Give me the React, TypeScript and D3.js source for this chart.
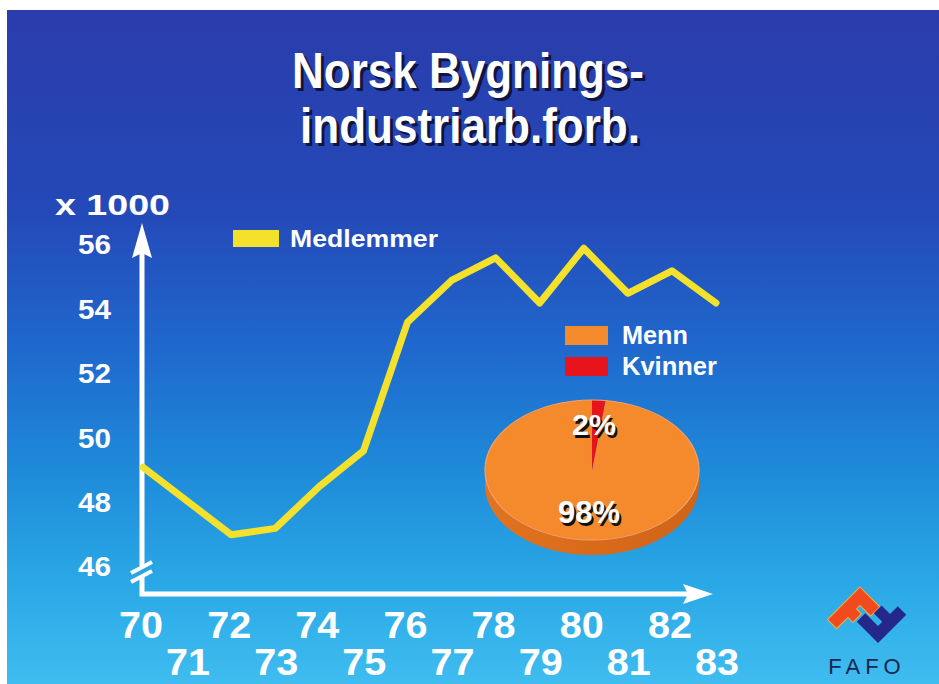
import React from 'react';
import * as d3 from 'd3';

const years = [70, 71, 72, 73, 74, 75, 76, 77, 78, 79, 80, 81, 82, 83];
const members = [49.1, 48.05, 47.0, 47.2, 48.5, 49.6, 53.6, 54.9, 55.6, 54.2, 55.9, 54.5, 55.2, 54.2];
const yTicks = [46, 48, 50, 52, 54, 56];
const xTicksTop = [70, 72, 74, 76, 78, 80, 82];
const xTicksBottom = [71, 73, 75, 77, 79, 81, 83];
const titleLines = ['Norsk Bygnings-', 'industriarb.forb.'];
const lineLegend = 'Medlemmer';
const unitLabel = 'x 1000';
const pieLabels = ['Menn', 'Kvinner'];
const pieValues = [98, 2];
const pieColors = ['#f48a2c', '#e8141c'];
const logoText = 'FAFO';

const FONT = '"Liberation Sans", Arial, Helvetica, sans-serif';

export default function App() {
  const W = 939, H = 684;
  const x = d3.scaleLinear().domain([70, 83]).range([143, 716]);
  const y = d3.scaleLinear().domain([46, 56]).range([567, 245]);
  const line = d3.line<number>().x((_, i) => x(years[i])).y(d => y(d)).curve(d3.curveLinear);

  const cx = 592, cy = 470, rx = 107, ry = 70, depth = 15;
  const pie = d3.pie<number>().sort(null).startAngle(2 * Math.PI * 0.02).endAngle(2 * Math.PI * 1.02);
  const arcs = pie(pieValues);
  const arc = d3.arc<d3.PieArcDatum<number>>().innerRadius(0).outerRadius(rx);
  const sidePath = `M${cx - rx},${cy} A${rx},${ry} 0 0 0 ${cx + rx},${cy} L${cx + rx},${cy + depth} A${rx},${ry} 0 0 1 ${cx - rx},${cy + depth} Z`;

  const axisX = 142, axisY = 594;
  const shadowText = (key: string, tx: number, ty: number, txt: string, size: number, anchor: string, len?: number, dx = 3, dy = 3, shadow = '#0d1540') => (
    <g key={key}>
      <text x={tx + dx} y={ty + dy} fontSize={size} fontWeight="bold" fontFamily={FONT} fill={shadow} textAnchor={anchor}
        {...(len ? { textLength: len, lengthAdjust: 'spacingAndGlyphs' } : {})}>{txt}</text>
      <text x={tx} y={ty} fontSize={size} fontWeight="bold" fontFamily={FONT} fill="#ffffff" textAnchor={anchor}
        {...(len ? { textLength: len, lengthAdjust: 'spacingAndGlyphs' } : {})}>{txt}</text>
    </g>
  );

  return (
    <svg width={W} height={H} style={{ position: 'absolute', left: 0, top: 0, display: 'block' }}>
      <defs>
        <linearGradient id="bg" x1="0" y1="0" x2="0" y2="1">
          <stop offset="0" stopColor="#2b3cab" />
          <stop offset="0.3" stopColor="#2449b8" />
          <stop offset="0.5" stopColor="#1f68cd" />
          <stop offset="0.68" stopColor="#1e8ad9" />
          <stop offset="0.85" stopColor="#2aa8e6" />
          <stop offset="1" stopColor="#3fbdf0" />
        </linearGradient>
        <linearGradient id="side" x1="0" y1="0" x2="1" y2="0">
          <stop offset="0" stopColor="#e0741f" />
          <stop offset="0.5" stopColor="#d96a1a" />
          <stop offset="1" stopColor="#cf6418" />
        </linearGradient>
      </defs>
      <rect x={0} y={0} width={W} height={H} fill="#ffffff" />
      <rect x={7} y={10} width={W - 7} height={H - 10} fill="url(#bg)" />

      {/* Title */}
      {shadowText('t1', 468, 88, titleLines[0], 50, 'middle', 352, 3, 3)}
      {shadowText('t2', 470, 143, titleLines[1], 50, 'middle', 340, 3, 3)}

      {/* unit label */}
      <text x={55} y={215} fontSize={30} fontWeight="bold" fontFamily={FONT} fill="#fff" textLength={115} lengthAdjust="spacingAndGlyphs">{unitLabel}</text>

      {/* y tick labels */}
      {yTicks.map(t => (
        <text key={t} x={111} y={y(t)} dy="0.35em" fontSize={27} fontWeight="bold" fontFamily={FONT} fill="#fff" textAnchor="end" textLength={33} lengthAdjust="spacingAndGlyphs">{t}</text>
      ))}

      {/* axes */}
      <g stroke="#ffffff" strokeWidth={5} fill="none" strokeLinecap="butt">
        <line x1={axisX} y1={250} x2={axisX} y2={566} />
        <path d={`M${axisX},577 L${axisX},${axisY} L690,${axisY}`} strokeLinejoin="miter" />
        <line x1={131} y1={573} x2={152} y2={562} strokeWidth={4} />
        <line x1={131} y1={582} x2={152} y2={571} strokeWidth={4} />
      </g>
      <path d={`M${axisX},223 L${axisX + 10},258 L${axisX},253 L${axisX - 10},258 Z`} fill="#fff" />
      <path d={`M713,${axisY} L683,${axisY + 10} L688,${axisY} L683,${axisY - 10} Z`} fill="#fff" />

      {/* x tick labels */}
      {xTicksTop.map(t => (
        <text key={t} x={x(t) - 2} y={638} fontSize={37} fontWeight="bold" fontFamily={FONT} fill="#fff" textAnchor="middle" textLength={44} lengthAdjust="spacingAndGlyphs">{t}</text>
      ))}
      {xTicksBottom.map(t => (
        <text key={t} x={x(t) + 1} y={675} fontSize={37} fontWeight="bold" fontFamily={FONT} fill="#fff" textAnchor="middle" textLength={44} lengthAdjust="spacingAndGlyphs">{t}</text>
      ))}

      {/* members line */}
      <path d={line(members) || ''} fill="none" stroke="#f3e12c" strokeWidth={7} strokeLinejoin="round" strokeLinecap="round" />

      {/* line legend */}
      <rect x={233} y={230} width={46} height={17} fill="#f3e12c" />
      <text x={290} y={247} fontSize={24} fontWeight="bold" fontFamily={FONT} fill="#fff" textLength={148} lengthAdjust="spacingAndGlyphs">{lineLegend}</text>

      {/* pie legend */}
      {pieLabels.map((l, i) => (
        <g key={l}>
          <rect x={565} y={326 + i * 31} width={43} height={19} fill={pieColors[i]} />
          <text x={622} y={344 + i * 31} fontSize={25} fontWeight="bold" fontFamily={FONT} fill="#fff" textLength={i === 0 ? 66 : 95} lengthAdjust="spacingAndGlyphs">{l}</text>
        </g>
      ))}

      {/* pie */}
      <path d={sidePath} fill="url(#side)" />
      <g transform={`translate(${cx},${cy}) scale(1,${ry / rx})`}>
        {arcs.map((a, i) => (
          <path key={i} d={arc(a) || ''} fill={pieColors[i]} />
        ))}
        <ellipse cx={0} cy={0} rx={rx} ry={rx} fill="none" stroke="#f6a06a" strokeWidth={1.2} />
      </g>
      {shadowText('p2', 594, 435, `${pieValues[1]}%`, 29, 'middle', 44, 2, 3, '#111')}
      {shadowText('p98', 589, 523, `${pieValues[0]}%`, 31, 'middle', 62, 2, 3, '#111')}

      {/* FAFO logo */}
      <g transform="translate(860,587) rotate(45)">
        <path d="M0,0 L28,0 L28,13 L13,13 L13,18 L20,18 L20,30 L13,30 L13,46 L0,46 Z" fill="#f04a1e" stroke="#f7b03a" strokeWidth={1} />
      </g>
      <g transform="translate(878,643) rotate(-45)">
        <path d="M0,0 L0,-30 L12,-30 L12,-12 L18,-12 L18,-24 L29,-24 L29,-12 L40,-12 L40,0 Z" fill="#23288a" />
      </g>
      <text x={867} y={674} fontSize={22} fontFamily={FONT} fill="#1a2650" textAnchor="middle" letterSpacing={5}>{logoText}</text>
    </svg>
  );
}
